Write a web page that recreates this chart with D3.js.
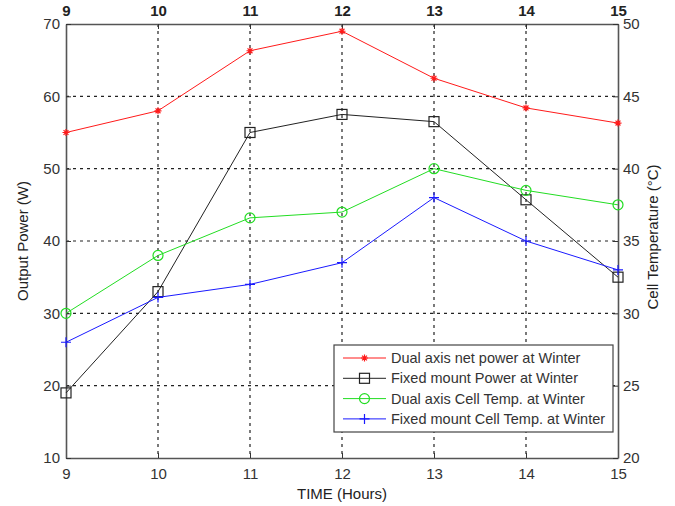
<!DOCTYPE html>
<html>
<head>
<meta charset="utf-8">
<script src="https://cdn.jsdelivr.net/npm/d3@7"></script>
<style>
  html, body { margin: 0; padding: 0; background: #fff; }
  svg { display: block; font-family: "Liberation Sans", Arial, sans-serif; }
</style>
</head>
<body>
<svg id="chart" width="675" height="506"></svg>
<script>
// Hours of the day (shared x values)
const hours = [9, 10, 11, 12, 13, 14, 15];

// Output power (W), left axis
const dualAxisPower = [55, 58, 66.3, 69, 62.5, 58.4, 56.3];
const fixedMountPower = [19, 33, 55, 57.5, 56.5, 45.7, 35];

// Cell temperature (°C), right axis
const dualAxisTemp = [30, 34, 36.6, 37, 40, 38.5, 37.5];
const fixedMountTemp = [28, 31.1, 32, 33.5, 38, 35, 33];

// Tick values
const powerTicks = [10, 20, 30, 40, 50, 60, 70];
const tempTicks = [20, 25, 30, 35, 40, 45, 50];

const legendLabels = [
  "Dual axis net power at Winter",
  "Fixed mount Power at Winter",
  "Dual axis Cell Temp. at Winter",
  "Fixed mount Cell Temp. at Winter"
];

const svg = d3.select("#chart");
const m = { left: 66, right: 57, top: 24, bottom: 48 };
const W = 675, H = 506;
const iw = W - m.left - m.right, ih = H - m.top - m.bottom;

const x = d3.scaleLinear().domain([9, 15]).range([m.left, m.left + iw]);
const yL = d3.scaleLinear().domain([10, 70]).range([m.top + ih, m.top]);
const yR = d3.scaleLinear().domain([20, 50]).range([m.top + ih, m.top]);

const tickColor = "#333";
const fs = 15;

// Dotted grid
const grid = svg.append("g");
grid.selectAll("line.v").data(hours.slice(1, -1)).join("line")
  .attr("x1", d => x(d)).attr("x2", d => x(d))
  .attr("y1", m.top).attr("y2", m.top + ih)
  .attr("stroke", "#222").attr("stroke-width", 1.2).attr("stroke-dasharray", "3,4");
grid.selectAll("line.h").data(powerTicks.slice(1, -1)).join("line")
  .attr("x1", m.left).attr("x2", m.left + iw)
  .attr("y1", d => yL(d)).attr("y2", d => yL(d))
  .attr("stroke", "#222").attr("stroke-width", 1.2).attr("stroke-dasharray", "3,4");

// Axes (ticks drawn inward)
function styleAxis(g) {
  g.select(".domain").attr("stroke", "#555").attr("stroke-width", 1.6);
  g.selectAll(".tick line").attr("stroke", "#333");
  g.selectAll(".tick text").attr("fill", tickColor).attr("font-size", fs)
    .attr("font-family", "Liberation Sans, Arial, sans-serif");
}
const axB = svg.append("g").attr("transform", `translate(0,${m.top + ih})`)
  .call(d3.axisBottom(x).tickValues(hours).tickFormat(d3.format("d")).tickSizeInner(-5).tickSizeOuter(0).tickPadding(10));
styleAxis(axB);
const axT = svg.append("g").attr("transform", `translate(0,${m.top})`)
  .call(d3.axisTop(x).tickValues(hours).tickFormat(d3.format("d")).tickSizeInner(-5).tickSizeOuter(0).tickPadding(8));
styleAxis(axT);
axT.selectAll(".tick text").attr("font-weight", "bold").attr("fill", "#222");
const axL = svg.append("g").attr("transform", `translate(${m.left},0)`)
  .call(d3.axisLeft(yL).tickValues(powerTicks).tickSizeInner(-5).tickSizeOuter(0).tickPadding(6));
styleAxis(axL);
const axR = svg.append("g").attr("transform", `translate(${m.left + iw},0)`)
  .call(d3.axisRight(yR).tickValues(tempTicks).tickSizeInner(-5).tickSizeOuter(0).tickPadding(5));
styleAxis(axR);

// Axis titles
svg.append("text").attr("x", x(12)).attr("y", 499).attr("text-anchor", "middle")
  .attr("font-size", fs).attr("fill", "#222").text("TIME (Hours)");
svg.append("text").attr("transform", `translate(28,${m.top + ih / 2}) rotate(-90)`)
  .attr("text-anchor", "middle").attr("font-size", fs).attr("fill", "#222").text("Output Power (W)");
svg.append("text").attr("transform", `translate(658,${m.top + ih / 2 - 4}) rotate(-90)`)
  .attr("text-anchor", "middle").attr("font-size", fs).attr("fill", "#222").text("Cell Temperature (°C)");

// Marker drawing helpers
function marker(g, kind, color) {
  if (kind === "star") {
    const r = 3.5;
    g.append("path").attr("d", `M${-r},0H${r}M0,${-r}V${r}M${-r*0.7},${-r*0.7}L${r*0.7},${r*0.7}M${-r*0.7},${r*0.7}L${r*0.7},${-r*0.7}`)
      .attr("stroke", color).attr("stroke-width", 1.2).attr("fill", "none");
  } else if (kind === "square") {
    g.append("rect").attr("x", -5).attr("y", -5).attr("width", 10).attr("height", 10)
      .attr("stroke", color).attr("stroke-width", 1.2).attr("fill", "none");
  } else if (kind === "circle") {
    g.append("circle").attr("r", 5).attr("stroke", color).attr("stroke-width", 1.2).attr("fill", "none");
  } else if (kind === "plus") {
    const r = 5;
    g.append("path").attr("d", `M${-r},0H${r}M0,${-r}V${r}`)
      .attr("stroke", color).attr("stroke-width", 1.2).attr("fill", "none");
  }
}

const series = [
  { values: dualAxisPower, y: yL, color: "#ff1a1a", kind: "star" },
  { values: fixedMountPower, y: yL, color: "#222", kind: "square" },
  { values: dualAxisTemp, y: yR, color: "#22dd22", kind: "circle" },
  { values: fixedMountTemp, y: yR, color: "#1a1aff", kind: "plus" }
];

series.forEach(s => {
  const line = d3.line().x((d, i) => x(hours[i])).y(d => s.y(d));
  svg.append("path").datum(s.values).attr("d", line)
    .attr("fill", "none").attr("stroke", s.color).attr("stroke-width", 1);
  s.values.forEach((v, i) => {
    const g = svg.append("g").attr("transform", `translate(${x(hours[i])},${s.y(v)})`);
    marker(g, s.kind, s.color);
  });
});

// Legend
const lg = svg.append("g");
lg.append("rect").attr("x", 334).attr("y", 345).attr("width", 279).attr("height", 87)
  .attr("fill", "#fff").attr("stroke", "#444").attr("stroke-width", 1.2);
series.forEach((s, i) => {
  const yy = 358 + i * 20.3;
  lg.append("line").attr("x1", 343).attr("x2", 386).attr("y1", yy).attr("y2", yy)
    .attr("stroke", s.color).attr("stroke-width", 1);
  const g = lg.append("g").attr("transform", `translate(364.5,${yy})`);
  marker(g, s.kind, s.color);
  lg.append("text").attr("x", 391).attr("y", yy + 5).attr("font-size", 14.5)
    .attr("fill", "#333").text(legendLabels[i]);
});
</script>
</body>
</html>
